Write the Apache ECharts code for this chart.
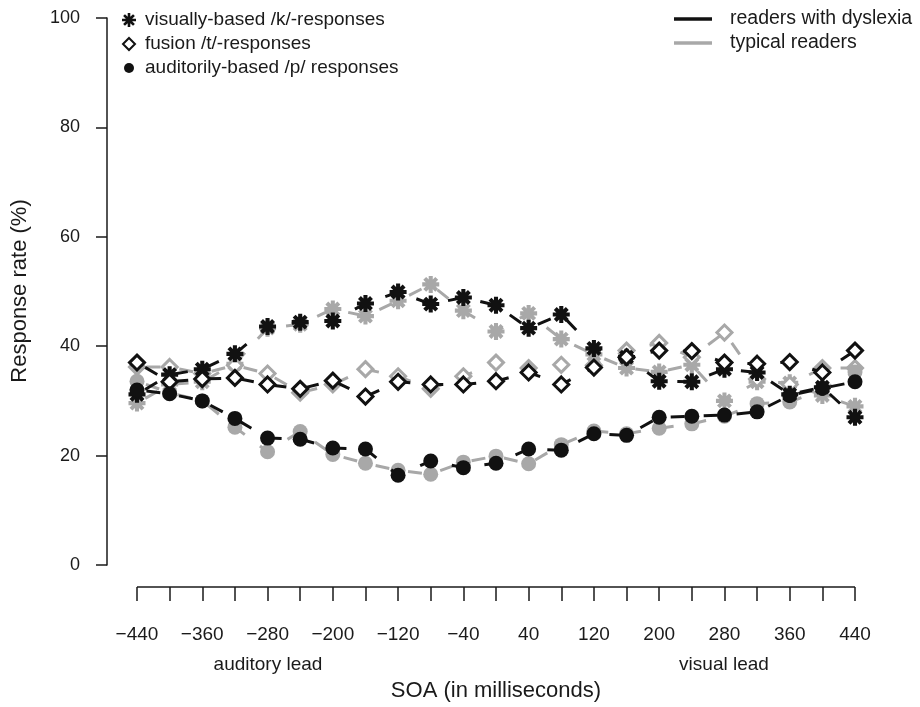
<!DOCTYPE html>
<html>
<head>
<meta charset="utf-8">
<script src="https://cdn.jsdelivr.net/npm/echarts@6/dist/echarts.min.js"></script>
<style>html,body{margin:0;padding:0;background:#fff}#c{width:920px;height:707px}</style>
</head>
<body>
<div id="c"></div>
<script>
// ---- data ----
const soa = [-440,-400,-360,-320,-280,-240,-200,-160,-120,-80,-40,0,40,80,120,160,200,240,280,320,360,400,440];
const dysK = [31.2,34.8,35.8,38.6,43.6,44.4,44.6,47.8,49.9,47.7,48.9,47.5,43.3,45.8,39.6,38.0,33.6,33.5,35.8,35.2,31.2,32.5,27.0];
const dysT = [37.0,33.5,34.0,34.2,33.0,32.2,33.7,30.8,33.5,33.0,33.0,33.6,35.2,33.0,36.1,38.0,39.2,39.1,37.0,36.8,37.1,35.2,39.2];
const dysP = [32.0,31.3,30.0,26.8,23.2,23.0,21.4,21.2,16.4,19.0,17.8,18.6,21.2,21.0,24.0,23.7,27.0,27.2,27.4,28.0,31.0,32.3,33.5];
const typK = [29.6,33.0,33.5,36.8,43.3,44.0,46.8,45.5,48.3,51.3,46.5,42.7,46.0,41.3,38.5,36.0,35.3,36.6,30.0,33.5,33.3,31.0,29.0];
const typT = [36.2,36.2,35.0,36.5,35.0,31.5,33.0,35.8,34.5,32.2,34.5,37.0,36.0,36.6,36.5,39.2,40.6,38.0,42.5,34.0,33.0,36.0,36.0];
const typP = [33.6,31.5,30.0,25.2,20.7,24.4,20.2,18.6,17.3,16.6,18.8,19.9,18.5,22.0,24.5,24.0,25.0,25.8,27.2,29.5,29.8,32.0,35.3];
const yTicks = [0,20,40,60,80,100];
const legendRight = ['readers with dyslexia','typical readers'];
const legendLeft = ['visually-based /k/-responses','fusion /t/-responses','auditorily-based /p/ responses'];

const BLACK = '#111111', GRAY = '#a8a8a8';
const FONT = '"Liberation Sans", Arial, sans-serif';

// asterisk shape (8 spokes)
function asteriskPts(cx, cy, L, h) {
  const pts = [];
  const d = h / Math.sin(Math.PI / 8);
  for (let k = 0; k < 8; k++) {
    const t = k * Math.PI / 4;
    const ux = Math.cos(t), uy = Math.sin(t), nx = -Math.sin(t), ny = Math.cos(t);
    pts.push([cx + ux * L - nx * h, cy + uy * L - ny * h]);
    pts.push([cx + ux * L + nx * h, cy + uy * L + ny * h]);
    const b = t + Math.PI / 8;
    pts.push([cx + Math.cos(b) * d, cy + Math.sin(b) * d]);
  }
  return pts;
}
const astPath = 'path://' + asteriskPts(50, 50, 50, 12).map((p, i) => (i ? 'L' : 'M') + p[0].toFixed(2) + ' ' + p[1].toFixed(2)).join(' ') + ' Z';

function pairs(vals) { return soa.map((x, i) => [x, vals[i]]); }

function mkSeries(name, vals, color, kind) {
  const s = {
    name: name, type: 'line', data: pairs(vals),
    lineStyle: { color: color, width: 3, type: [14, 19], dashOffset: 23.5 },
    symbolSize: 13, showSymbol: true, animation: false, z: color === BLACK ? 3 : 2
  };
  if (kind === 'k') { s.symbol = astPath; s.symbolSize = 17; s.itemStyle = { color: color }; }
  if (kind === 't') { s.symbol = 'diamond'; s.symbolSize = 15; s.itemStyle = { color: '#fff', borderColor: color, borderWidth: 3 }; }
  if (kind === 'p') { s.symbol = 'circle'; s.symbolSize = 15; s.itemStyle = { color: color }; }
  return s;
}

const series = [
  mkSeries('typK', typK, GRAY, 'k'),
  mkSeries('typT', typT, GRAY, 't'),
  mkSeries('typP', typP, GRAY, 'p'),
  mkSeries('dysK', dysK, BLACK, 'k'),
  mkSeries('dysT', dysT, BLACK, 't'),
  mkSeries('dysP', dysP, BLACK, 'p')
];

const graphics = [];
// left legend
const legY = [20, 44, 68];
graphics.push({ type: 'polygon', shape: { points: asteriskPts(129, legY[0], 7, 1.3) }, style: { fill: BLACK } });
graphics.push({ type: 'polygon', shape: { points: [[129, legY[1] - 6], [135, legY[1]], [129, legY[1] + 6], [123, legY[1]]] }, style: { fill: '#fff', stroke: BLACK, lineWidth: 2 } });
graphics.push({ type: 'circle', shape: { cx: 129, cy: legY[2], r: 5 }, style: { fill: BLACK } });
legendLeft.forEach((t, i) => graphics.push({ type: 'text', x: 145, y: legY[i], style: { text: t, font: '19px ' + FONT, fill: '#1a1a1a', textVerticalAlign: 'middle', verticalAlign: 'middle' } }));
// right legend
[[BLACK, 19], [GRAY, 43]].forEach((c, i) => {
  graphics.push({ type: 'line', shape: { x1: 674, y1: c[1], x2: 712, y2: c[1] }, style: { stroke: c[0], lineWidth: 3.5 } });
  graphics.push({ type: 'text', x: 730, y: c[1], style: { text: legendRight[i], font: '19.5px ' + FONT, fill: '#1a1a1a', verticalAlign: 'middle', textVerticalAlign: 'middle' } });
});
// axis annotations
graphics.push({ type: 'text', x: 268, y: 665, style: { text: 'auditory lead', font: '19px ' + FONT, fill: '#1a1a1a', align: 'center', textAlign: 'center', verticalAlign: 'middle', textVerticalAlign: 'middle' } });
graphics.push({ type: 'text', x: 724, y: 665, style: { text: 'visual lead', font: '19px ' + FONT, fill: '#1a1a1a', align: 'center', textAlign: 'center', verticalAlign: 'middle', textVerticalAlign: 'middle' } });
graphics.push({ type: 'text', x: 496, y: 691, style: { text: 'SOA (in milliseconds)', font: '22px ' + FONT, fill: '#1a1a1a', align: 'center', textAlign: 'center', verticalAlign: 'middle', textVerticalAlign: 'middle' } });
graphics.push({ type: 'text', x: 20, y: 291, rotation: Math.PI / 2, style: { text: 'Response rate (%)', font: '22px ' + FONT, fill: '#1a1a1a', align: 'center', textAlign: 'center', verticalAlign: 'middle', textVerticalAlign: 'middle' } });

const chart = echarts.init(document.getElementById('c'), null, { renderer: 'canvas' });
chart.setOption({
  animation: false,
  backgroundColor: '#fff',
  grid: { left: 137, right: 65, top: 18, bottom: 142, containLabel: false },
  xAxis: {
    type: 'value', min: -440, max: 440, interval: 40, offset: 22, position: 'bottom',
    axisLine: { show: false, onZero: false },
    axisTick: { show: true, inside: false, length: 14, lineStyle: { color: '#1a1a1a', width: 1.5 } },
    splitLine: { show: false },
    axisLabel: {
      margin: 38, fontSize: 19, fontFamily: FONT, color: '#1a1a1a', hideOverlap: false, showMinLabel: true, showMaxLabel: true,
      formatter: v => ((v + 440) % 80 === 0 ? (v < 0 ? '\u2212' + Math.abs(v) : String(v)) : '')
    }
  },
  yAxis: {
    type: 'value', min: 0, max: 100, interval: 20, offset: 30, position: 'left',
    axisLine: { show: true, onZero: false, lineStyle: { color: '#1a1a1a', width: 1.5 } },
    axisTick: { show: true, inside: false, length: 11, lineStyle: { color: '#1a1a1a', width: 1.5 } },
    splitLine: { show: false },
    axisLabel: { margin: 27, fontSize: 18, fontFamily: FONT, color: '#1a1a1a', formatter: v => (yTicks.indexOf(v) >= 0 ? String(v) : '') }
  },
  series: series,
  graphic: graphics
});
// x axis line spanning the data range only (R style)
const pa = chart.convertToPixel({ gridIndex: 0 }, [soa[0], 0]);
const pb = chart.convertToPixel({ gridIndex: 0 }, [soa[soa.length - 1], 0]);
graphics.push({ type: 'line', shape: { x1: pa[0], y1: pa[1] + 22, x2: pb[0], y2: pb[1] + 22 }, style: { stroke: '#1a1a1a', lineWidth: 1.5 } });
chart.setOption({ graphic: graphics });
</script>
</body>
</html>
